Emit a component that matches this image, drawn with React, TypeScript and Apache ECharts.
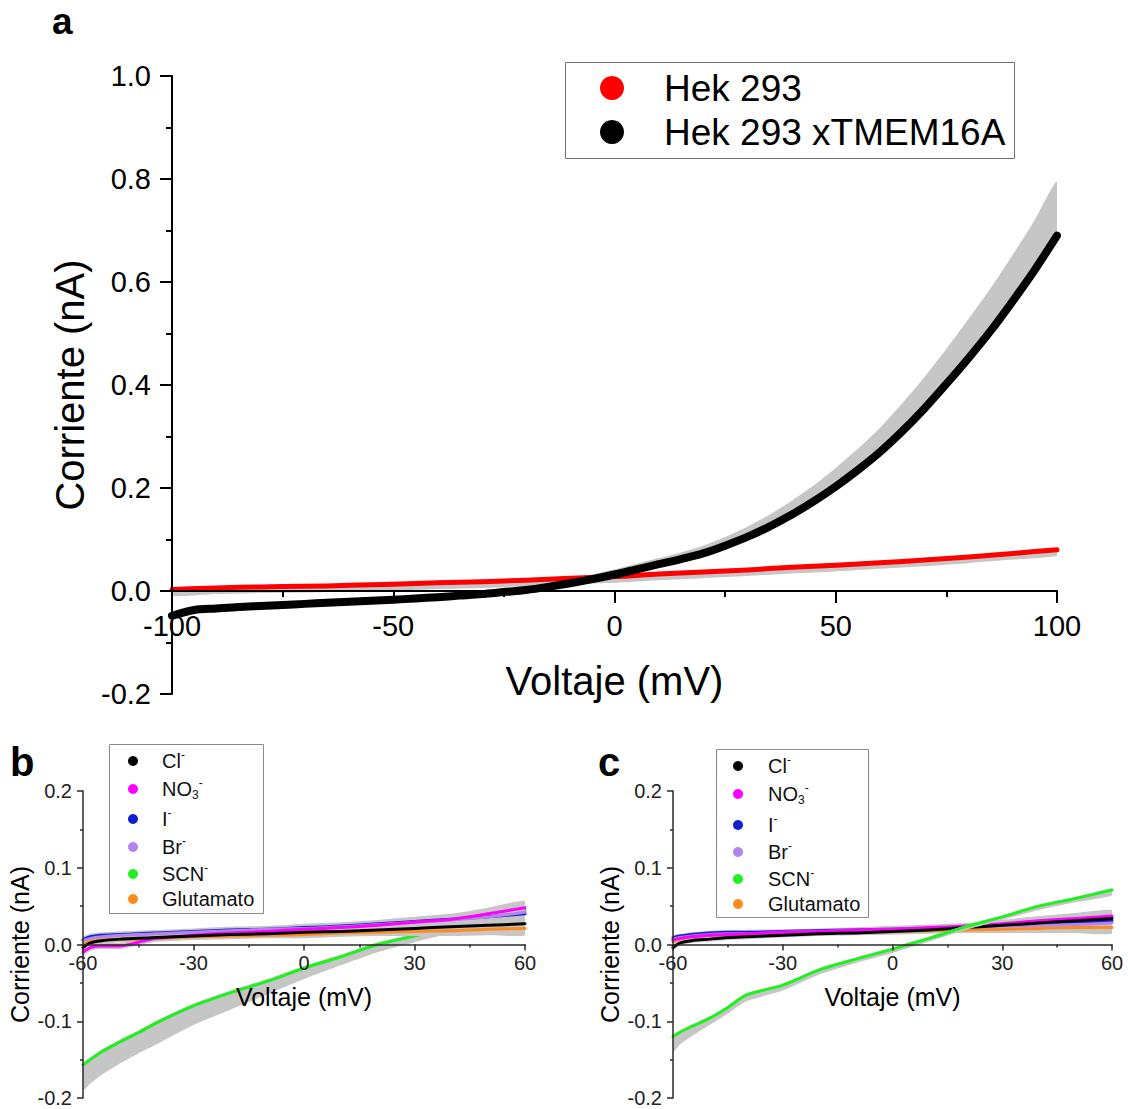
import React, { useEffect, useRef } from "react";
import * as echarts from "echarts";

const FONT = "'Liberation Sans', Arial, Helvetica, sans-serif";

// ---------- Panel a ----------
// Hek 293 (red) and its SEM band (below the mean)
const voltHek = [-100, -90, -80, -70, -60, -50, -40, -30, -20, -10, 0, 10, 20, 30, 40, 50, 60, 70, 80, 90, 100];
const hekMean = [0.003, 0.006, 0.008, 0.009, 0.011, 0.013, 0.016, 0.018, 0.021, 0.025, 0.028, 0.033, 0.037, 0.041, 0.046, 0.05, 0.055, 0.06, 0.066, 0.073, 0.08];
const hekLower = [-0.01, -0.006, -0.004, -0.003, -0.001, 0.001, 0.004, 0.006, 0.009, 0.013, 0.016, 0.021, 0.025, 0.029, 0.034, 0.038, 0.043, 0.048, 0.054, 0.061, 0.068];

// Hek 293 xTMEM16A (black) and its SEM band
const voltTmem = [-100, -95, -90, -85, -80, -75, -70, -65, -60, -55, -50, -45, -40, -35, -30, -25, -20, -15, -10, -5, 0, 5, 10, 15, 20, 25, 30, 35, 40, 45, 50, 55, 60, 65, 70, 75, 80, 85, 90, 95, 100];
const tmemMean = [-0.048, -0.037, -0.034, -0.031, -0.029, -0.027, -0.025, -0.023, -0.021, -0.019, -0.017, -0.0145, -0.012, -0.009, -0.006, -0.002, 0.002, 0.008, 0.015, 0.023, 0.032, 0.042, 0.052, 0.062, 0.073, 0.088, 0.105, 0.125, 0.148, 0.174, 0.203, 0.235, 0.27, 0.31, 0.354, 0.402, 0.452, 0.505, 0.563, 0.624, 0.69];
const tmemUpper = [-0.044, -0.033, -0.03, -0.027, -0.025, -0.023, -0.021, -0.019, -0.017, -0.015, -0.013, -0.0105, -0.008, -0.005, -0.002, 0.003, 0.008, 0.015, 0.023, 0.032, 0.042, 0.053, 0.064, 0.075, 0.088, 0.105, 0.125, 0.148, 0.175, 0.205, 0.239, 0.276, 0.317, 0.364, 0.415, 0.47, 0.528, 0.588, 0.653, 0.721, 0.795];
const tmemLower = [-0.054, -0.043, -0.04, -0.037, -0.035, -0.033, -0.031, -0.029, -0.027, -0.025, -0.023, -0.0205, -0.018, -0.015, -0.012, -0.008, -0.004, 0.002, 0.009, 0.017, 0.026, 0.036, 0.046, 0.056, 0.067, 0.082, 0.099, 0.119, 0.142, 0.168, 0.197, 0.229, 0.264, 0.304, 0.348, 0.396, 0.446, 0.499, 0.557, 0.618, 0.684];
const legendA = ["Hek 293", "Hek 293 xTMEM16A"];
const colorsA = ["#ff0000", "#000000"];

// ---------- Panels b, c ----------
const voltBC = [-60, -58, -55, -50, -45, -40, -30, -20, -10, 0, 10, 20, 30, 40, 50, 60];
const ionNames = ["Cl⁻", "NO₃⁻", "I⁻", "Br⁻", "SCN⁻", "Glutamato"];
const ionColors = ["#000000", "#ff00ff", "#1020d0", "#b483ee", "#1ff01f", "#ff8a1c"];

const clB = [-0.004, 0.002, 0.005, 0.007, 0.008, 0.009, 0.011, 0.013, 0.014, 0.016, 0.017, 0.019, 0.021, 0.023, 0.025, 0.027];
const no3B = [-0.01, -0.004, -0.002, -0.002, 0.003, 0.008, 0.012, 0.015, 0.017, 0.02, 0.022, 0.025, 0.029, 0.033, 0.04, 0.048];
const iB = [0.006, 0.01, 0.012, 0.013, 0.014, 0.015, 0.017, 0.019, 0.02, 0.022, 0.024, 0.027, 0.03, 0.033, 0.036, 0.04];
const brB = [0.005, 0.008, 0.01, 0.012, 0.013, 0.014, 0.016, 0.018, 0.02, 0.021, 0.023, 0.026, 0.029, 0.032, 0.036, 0.042];
const gluB = [0.0, 0.004, 0.006, 0.007, 0.007, 0.008, 0.01, 0.011, 0.012, 0.013, 0.015, 0.016, 0.017, 0.018, 0.02, 0.021];
const scnB = [-0.157, -0.15, -0.14, -0.127, -0.115, -0.102, -0.08, -0.063, -0.048, -0.031, -0.016, 0.0, 0.011, 0.022, 0.033, 0.045];
const scnBLower = [-0.19, -0.181, -0.17, -0.155, -0.142, -0.13, -0.105, -0.085, -0.065, -0.045, -0.027, -0.01, 0.003, 0.015, 0.028, 0.04];
const scnBUpper = [-0.154, -0.147, -0.137, -0.124, -0.112, -0.099, -0.077, -0.06, -0.045, -0.028, -0.013, 0.003, 0.014, 0.025, 0.036, 0.048];
const semB = [0.004, 0.004, 0.004, 0.004, 0.004, 0.004, 0.004, 0.004, 0.004, 0.005, 0.005, 0.005, 0.006, 0.007, 0.008, 0.009];

const clC = [-0.004, 0.002, 0.005, 0.007, 0.009, 0.01, 0.012, 0.014, 0.015, 0.017, 0.019, 0.022, 0.025, 0.028, 0.031, 0.034];
const no3C = [0.006, 0.008, 0.01, 0.012, 0.013, 0.014, 0.016, 0.017, 0.019, 0.02, 0.022, 0.024, 0.027, 0.031, 0.034, 0.037];
const iC = [0.009, 0.011, 0.013, 0.015, 0.016, 0.016, 0.017, 0.018, 0.019, 0.02, 0.021, 0.023, 0.025, 0.027, 0.029, 0.031];
const brC = [0.007, 0.009, 0.011, 0.013, 0.014, 0.014, 0.016, 0.017, 0.018, 0.019, 0.021, 0.022, 0.024, 0.025, 0.026, 0.028];
const gluC = [0.004, 0.007, 0.01, 0.012, 0.013, 0.013, 0.014, 0.015, 0.016, 0.017, 0.018, 0.019, 0.02, 0.021, 0.022, 0.022];
const scnC = [-0.12, -0.114, -0.107, -0.096, -0.082, -0.066, -0.053, -0.033, -0.019, -0.006, 0.008, 0.023, 0.036, 0.05, 0.06, 0.071];
const scnCLower = [-0.14, -0.13, -0.12, -0.105, -0.09, -0.074, -0.06, -0.039, -0.024, -0.011, 0.004, 0.019, 0.032, 0.045, 0.055, 0.064];
const scnCUpper = [-0.118, -0.112, -0.105, -0.094, -0.08, -0.064, -0.051, -0.031, -0.017, -0.004, 0.01, 0.025, 0.038, 0.052, 0.062, 0.073];
const semC = [0.003, 0.003, 0.003, 0.003, 0.003, 0.003, 0.003, 0.003, 0.003, 0.004, 0.004, 0.004, 0.005, 0.006, 0.007, 0.008];

const xTicksA = { min: -100, max: 100, interval: 50 };
const yTicksA = { min: -0.2, max: 1.0, interval: 0.2 };
const xTicksBC = { min: -60, max: 60, interval: 30 };
const yTicksBC = { min: -0.2, max: 0.2, interval: 0.1 };

const BAND = "#c6c6c6";
const SMOOTH = 0.3;

// grid boxes (layout)
const GA = { left: 172, top: 76, width: 885, height: 618 };
const GB = { left: 83, top: 791, width: 442, height: 307 };
const GC = { left: 673, top: 791, width: 439, height: 307 };

function pairs(x: number[], y: number[]) {
  return x.map((v, i) => [v, y[i]]);
}

function lineSeries(name: string, x: number[], y: number[], color: string, width: number, gi: number, z: number) {
  return {
    type: "line",
    name,
    xAxisIndex: gi,
    yAxisIndex: gi,
    data: pairs(x, y),
    showSymbol: false,
    symbol: "none",
    smooth: SMOOTH,
    lineStyle: { color, width, cap: "round", join: "round" },
    itemStyle: { color },
    z,
    silent: true,
  };
}

function bandSeries(x: number[], lo: number[], hi: number[], gi: number, z: number) {
  return {
    type: "custom",
    xAxisIndex: gi,
    yAxisIndex: gi,
    data: [[x[0], lo[0]]],
    silent: true,
    clip: true,
    z,
    renderItem: (_p: any, api: any) => {
      const pts: number[][] = [];
      for (let i = 0; i < x.length; i++) pts.push(api.coord([x[i], hi[i]]));
      for (let i = x.length - 1; i >= 0; i--) pts.push(api.coord([x[i], lo[i]]));
      return {
        type: "polygon",
        shape: { points: pts, smooth: 0.2 },
        style: { fill: BAND, stroke: null },
      };
    },
  };
}

function semBand(x: number[], mean: number[], sem: number[], gi: number, z: number) {
  return bandSeries(
    x,
    mean.map((m, i) => m - sem[i]),
    mean.map((m, i) => m + sem[i]),
    gi,
    z
  );
}

function xAxisCfg(gi: number, t: any, big: boolean, offset: number) {
  const col = big ? "#000" : "#2a2a2a";
  return {
    type: "value",
    gridIndex: gi,
    min: t.min,
    max: t.max,
    interval: t.interval,
    position: "bottom",
    offset,
    name: "Voltaje (mV)",
    nameLocation: "middle",
    nameGap: big ? 70 : 40,
    nameMoveOverlap: false,
    nameTextStyle: { fontSize: big ? 40 : 25, fontFamily: FONT, color: "#000" },
    axisLine: { show: true, onZero: false, lineStyle: { color: col, width: big ? 2 : 1.5 } },
    axisTick: { show: true, inside: false, length: big ? 12 : 6, lineStyle: { color: col, width: big ? 2 : 1.5 } },
    minorTick: { show: true, splitNumber: 2, length: big ? 6 : 3, lineStyle: { color: col, width: big ? 2 : 1.5 } },
    splitLine: { show: false },
    minorSplitLine: { show: false },
    axisLabel: {
      fontSize: big ? 29 : 20,
      fontFamily: FONT,
      color: big ? "#000" : "#222",
      margin: big ? 20 : 8,
      showMinLabel: true,
      showMaxLabel: true,
      hideOverlap: false,
    },
    z: 20,
  };
}

function yAxisCfg(gi: number, t: any, big: boolean) {
  const col = big ? "#000" : "#2a2a2a";
  return {
    type: "value",
    gridIndex: gi,
    min: t.min,
    max: t.max,
    interval: t.interval,
    name: "Corriente (nA)",
    nameLocation: "middle",
    nameGap: big ? 82 : 51,
    nameMoveOverlap: false,
    nameTextStyle: { fontSize: big ? 40 : 25, fontFamily: FONT, color: "#000" },
    axisLine: { show: true, onZero: false, lineStyle: { color: col, width: big ? 2 : 1.5 } },
    axisTick: { show: true, inside: false, length: big ? 12 : 6, lineStyle: { color: col, width: big ? 2 : 1.5 } },
    minorTick: { show: true, splitNumber: 2, length: big ? 6 : 3, lineStyle: { color: col, width: big ? 2 : 1.5 } },
    splitLine: { show: false },
    minorSplitLine: { show: false },
    axisLabel: {
      fontSize: big ? 29 : 20,
      fontFamily: FONT,
      color: big ? "#000" : "#222",
      margin: big ? 21 : 11,
      formatter: (v: number) => (Math.abs(v) < 1e-9 ? "0.0" : v.toFixed(1)),
      showMinLabel: true,
      showMaxLabel: true,
      hideOverlap: false,
    },
    z: 20,
  };
}

const ionRich: Record<string, string> = {
  "Cl⁻": "{n|Cl}{sup|-}",
  "NO₃⁻": "{n|NO}{sub|3}{sup|-}",
  "I⁻": "{n|I}{sup|-}",
  "Br⁻": "{n|Br}{sup|-}",
  "SCN⁻": "{n|SCN}{sup|-}",
  Glutamato: "{n|Glutamato}",
};

const RICH = {
  n: { fontSize: 20, lineHeight: 24, fontFamily: FONT, fill: "#111", color: "#111" },
  sup: { fontSize: 12, verticalAlign: "top", fontFamily: FONT, fill: "#111", color: "#111" },
  sub: { fontSize: 12, verticalAlign: "bottom", fontFamily: FONT, fill: "#111", color: "#111" },
};

function ionLegendGraphic(box: number[], cx: number, tx: number, ys: number[]) {
  const els: any[] = [
    {
      type: "rect",
      shape: { x: box[0] + 0.5, y: box[1] + 0.5, width: box[2], height: box[3] },
      style: { fill: "none", stroke: "#8a8a8a", lineWidth: 1 },
      silent: true,
    },
  ];
  ionNames.forEach((nm, i) => {
    els.push({
      type: "circle",
      shape: { cx, cy: ys[i], r: 5 },
      style: { fill: ionColors[i] },
      silent: true,
    });
    els.push({
      type: "text",
      x: tx,
      y: ys[i],
      style: {
        text: ionRich[nm],
        rich: RICH,
        fontSize: 20,
        fontFamily: FONT,
        fill: "#111",
        align: "left",
        verticalAlign: "middle",
      },
      silent: true,
    });
  });
  return els;
}

export default function App() {
  const ref = useRef<HTMLDivElement>(null);

  useEffect(() => {
    if (!ref.current) return;
    const chart = echarts.init(ref.current, undefined, { renderer: "svg" });

    const series: any[] = [];
    // Panel a
    series.push(bandSeries(voltHek, hekLower, hekMean, 0, 1));
    series.push(bandSeries(voltTmem, tmemLower, tmemUpper, 0, 1));
    series.push(lineSeries(legendA[0], voltHek, hekMean, colorsA[0], 5, 0, 3));
    series.push(lineSeries(legendA[1], voltTmem, tmemMean, colorsA[1], 8, 0, 4));

    // Panel b
    const bMeans = [clB, no3B, iB, brB, scnB, gluB];
    series.push(bandSeries(voltBC, scnBLower, scnBUpper, 1, 1));
    series.push(lineSeries(ionNames[4], voltBC, scnB, ionColors[4], 3, 1, 2));
    [5, 2, 3, 1, 0].forEach((k) => {
      series.push(semBand(voltBC, bMeans[k], semB, 1, 3));
    });
    [5, 2, 3, 1, 0].forEach((k, j) => {
      series.push(lineSeries(ionNames[k], voltBC, bMeans[k], ionColors[k], 3, 1, 4 + j));
    });

    // Panel c
    const cMeans = [clC, no3C, iC, brC, scnC, gluC];
    [5, 2, 3, 1, 0].forEach((k) => {
      series.push(semBand(voltBC, cMeans[k], semC, 2, 1));
    });
    [5, 2, 3, 1, 0].forEach((k, j) => {
      series.push(lineSeries(ionNames[k], voltBC, cMeans[k], ionColors[k], 3, 2, 2 + j));
    });
    series.push(bandSeries(voltBC, scnCLower, scnCUpper, 2, 8));
    series.push(lineSeries(ionNames[4], voltBC, scnC, ionColors[4], 3, 2, 9));

    // offsets that put each x axis on the zero line of its grid
    const offA = -GA.height * (0 - yTicksA.min) / (yTicksA.max - yTicksA.min);
    const offBC = -GB.height * (0 - yTicksBC.min) / (yTicksBC.max - yTicksBC.min);

    const legendAEls: any[] = [
      {
        type: "rect",
        shape: { x: 565.5, y: 62.5, width: 449, height: 96 },
        style: { fill: "none", stroke: "#707070", lineWidth: 1 },
        silent: true,
      },
    ];
    legendA.forEach((nm, i) => {
      const cy = 88 + i * 44;
      legendAEls.push({ type: "circle", shape: { cx: 612, cy, r: 12 }, style: { fill: colorsA[i] }, silent: true });
      legendAEls.push({
        type: "text",
        x: 664,
        y: cy,
        style: { text: nm, fontSize: 37, fontFamily: FONT, fill: "#000", align: "left", verticalAlign: "middle" },
        silent: true,
      });
    });

    chart.setOption({
      animation: false,
      backgroundColor: "#ffffff",
      textStyle: { fontFamily: FONT },
      grid: [
        { ...GA, outerBoundsMode: "none" },
        { ...GB, outerBoundsMode: "none" },
        { ...GC, outerBoundsMode: "none" },
      ],
      xAxis: [xAxisCfg(0, xTicksA, true, offA), xAxisCfg(1, xTicksBC, false, offBC), xAxisCfg(2, xTicksBC, false, offBC)],
      yAxis: [yAxisCfg(0, yTicksA, true), yAxisCfg(1, yTicksBC, false), yAxisCfg(2, yTicksBC, false)],
      graphic: [
        ...legendAEls,
        ...ionLegendGraphic([109, 744, 154, 169], 133, 162, [761, 789, 819, 847, 874, 899]),
        ...ionLegendGraphic([716, 749, 152, 168], 738, 768, [766, 794, 825, 852, 879, 904]),
        { type: "text", x: 52, y: 21, style: { text: "a", fontSize: 37, fontWeight: "bold", fontFamily: FONT, fill: "#000", verticalAlign: "middle" } },
        { type: "text", x: 10, y: 762, style: { text: "b", fontSize: 40, fontWeight: "bold", fontFamily: FONT, fill: "#000", verticalAlign: "middle" } },
        { type: "text", x: 598, y: 762, style: { text: "c", fontSize: 40, fontWeight: "bold", fontFamily: FONT, fill: "#000", verticalAlign: "middle" } },
      ],
      series,
    });

    return () => chart.dispose();
  }, []);

  return (
    <div
      ref={ref}
      style={{ position: "absolute", left: 0, top: 0, width: 1128, height: 1109, background: "#fff" }}
    />
  );
}
